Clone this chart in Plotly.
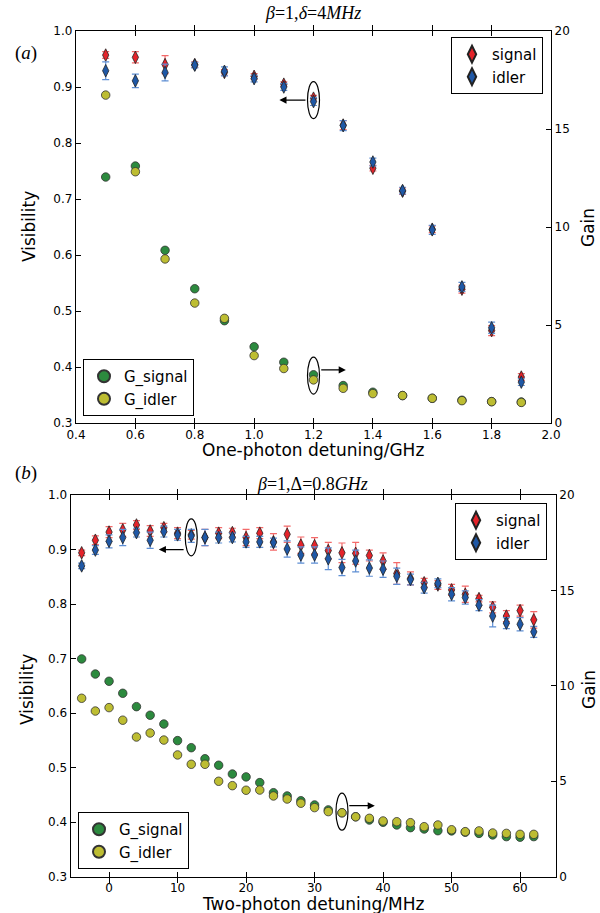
import plotly.graph_objects as go

# ---------------- data: panel (a) ----------------
one_photon_ghz = [0.5, 0.6, 0.7, 0.8, 0.9, 1.0, 1.1, 1.2, 1.3, 1.4, 1.5, 1.6, 1.7, 1.8, 1.9]
vis_signal_a = [0.957, 0.953, 0.940, 0.940, 0.926, 0.919, 0.905, 0.880, 0.832, 0.755, 0.714, 0.646, 0.539, 0.465, 0.382]
vis_signal_a_err = [0.006, 0.010, 0.016, 0.005, 0.005, 0.005, 0.004, 0.005, 0.008, 0.005, 0.006, 0.006, 0.007, 0.009, 0.006]
vis_idler_a = [0.929, 0.911, 0.926, 0.939, 0.928, 0.915, 0.900, 0.874, 0.831, 0.766, 0.715, 0.645, 0.543, 0.470, 0.373]
vis_idler_a_err = [0.016, 0.012, 0.015, 0.005, 0.008, 0.006, 0.006, 0.007, 0.009, 0.007, 0.006, 0.008, 0.008, 0.010, 0.006]
gain_signal_a = [12.55, 13.11, 8.81, 6.85, 5.22, 3.89, 3.10, 2.46, 1.91, 1.57, 1.40, 1.26, 1.16, 1.09, 1.07]
gain_idler_a = [16.73, 12.82, 8.37, 6.12, 5.34, 3.44, 2.78, 2.20, 1.77, 1.50, 1.40, 1.26, 1.14, 1.09, 1.05]

# ---------------- data: panel (b) ----------------
two_photon_mhz = [-4, -2, 0, 2, 4, 6, 8, 10, 12, 14, 16, 18, 20, 22, 24, 26, 28,
                  30, 32, 34, 36, 38, 40, 42, 44, 46, 48, 50, 52, 54, 56, 58, 60, 62]
vis_signal_b = [0.894, 0.917, 0.932, 0.936, 0.945, 0.934, 0.940, 0.930, 0.927, 0.922, 0.930, 0.931,
                0.922, 0.930, 0.914, 0.928, 0.908, 0.907, 0.898, 0.894, 0.893, 0.889, 0.879, 0.856,
                0.847, 0.839, 0.835, 0.826, 0.818, 0.810, 0.794, 0.778, 0.788, 0.771]
vis_signal_b_err = [0.005, 0.008, 0.010, 0.012, 0.008, 0.010, 0.008, 0.010, 0.008, 0.015, 0.010, 0.008,
                    0.015, 0.010, 0.015, 0.015, 0.015, 0.015, 0.015, 0.018, 0.020, 0.010, 0.015, 0.020,
                    0.012, 0.008, 0.008, 0.010, 0.015, 0.006, 0.010, 0.010, 0.010, 0.015]
vis_idler_b = [0.870, 0.899, 0.915, 0.922, 0.931, 0.917, 0.933, 0.927, 0.925, 0.922, 0.922, 0.922,
               0.914, 0.914, 0.913, 0.901, 0.890, 0.890, 0.883, 0.867, 0.879, 0.866, 0.864, 0.851,
               0.845, 0.830, 0.838, 0.818, 0.812, 0.798, 0.778, 0.765, 0.763, 0.749]
vis_idler_b_err = [0.005, 0.008, 0.012, 0.015, 0.008, 0.015, 0.010, 0.010, 0.012, 0.015, 0.010, 0.008,
                   0.010, 0.010, 0.008, 0.015, 0.015, 0.015, 0.020, 0.015, 0.020, 0.015, 0.015, 0.015,
                   0.010, 0.010, 0.008, 0.012, 0.012, 0.010, 0.020, 0.010, 0.012, 0.010]
gain_signal_b = [11.41, 10.62, 10.24, 9.61, 8.91, 8.46, 8.00, 7.13, 6.76, 6.18, 5.84, 5.38, 5.23, 4.93,
                 4.40, 4.23, 3.98, 3.76, 3.50, 3.35, 3.14, 2.97, 2.85, 2.71, 2.57, 2.50, 2.41, 2.40,
                 2.33, 2.27, 2.19, 2.10, 2.07, 2.10]
gain_idler_b = [9.35, 8.68, 8.86, 8.20, 7.32, 7.53, 7.16, 6.38, 5.89, 5.89, 5.00, 4.77, 4.53, 4.54,
                4.23, 4.07, 3.85, 3.62, 3.41, 3.35, 3.14, 3.06, 2.92, 2.88, 2.83, 2.62, 2.71, 2.46,
                2.36, 2.40, 2.29, 2.27, 2.22, 2.22]

# ---------------- styles ----------------
RED = "#e4232a"
RED_ERR = "#f36a6a"
BLUE = "#1f58a6"
BLUE_ERR = "#5f8fd4"
GREEN = "#2c8a3e"
YELLOW = "#bdbd32"
FONT = "DejaVu Sans"

fig = go.Figure()


def vis_trace(x, y, err, name, color, ecolor, xa, ya, legend):
    return go.Scatter(
        x=x, y=y, mode="markers", name=name, xaxis=xa, yaxis=ya, legend=legend,
        marker=dict(symbol="diamond-tall", size=9, color=color, line=dict(color="#222222", width=0.8)),
        error_y=dict(type="data", array=err, color=ecolor, thickness=1.2, width=3.5),
    )


def gain_trace(x, y, name, color, xa, ya, legend):
    return go.Scatter(
        x=x, y=y, mode="markers", name=name, xaxis=xa, yaxis=ya, legend=legend,
        marker=dict(symbol="circle", size=8.5, color=color, line=dict(color="#333333", width=0.8)),
    )


# panel (a)
fig.add_trace(gain_trace(one_photon_ghz, gain_signal_a, "G_signal", GREEN, "x", "y2", "legend2"))
fig.add_trace(gain_trace(one_photon_ghz, gain_idler_a, "G_idler", YELLOW, "x", "y2", "legend2"))
fig.add_trace(vis_trace(one_photon_ghz, vis_signal_a, vis_signal_a_err, "signal", RED, RED_ERR, "x", "y", "legend"))
fig.add_trace(vis_trace(one_photon_ghz, vis_idler_a, vis_idler_a_err, "idler", BLUE, BLUE_ERR, "x", "y", "legend"))

# panel (b)
fig.add_trace(gain_trace(two_photon_mhz, gain_signal_b, "G_signal", GREEN, "x2", "y4", "legend4"))
fig.add_trace(gain_trace(two_photon_mhz, gain_idler_b, "G_idler", YELLOW, "x2", "y4", "legend4"))
fig.add_trace(vis_trace(two_photon_mhz, vis_signal_b, vis_signal_b_err, "signal", RED, RED_ERR, "x2", "y3", "legend3"))
fig.add_trace(vis_trace(two_photon_mhz, vis_idler_b, vis_idler_b_err, "idler", BLUE, BLUE_ERR, "x2", "y3", "legend3"))

W, H = 600, 913


def px_x(p):
    return p / W


def px_y(p):
    return 1 - p / H


axis_common = dict(showline=True, linecolor="black", linewidth=1.3, ticks="inside", ticklen=5,
                   tickcolor="black", tickwidth=1, showgrid=False, zeroline=False, automargin=False,
                   tickfont=dict(family=FONT, size=12, color="black"))

top_dom_x = [px_x(76), px_x(551)]
top_dom_y = [px_y(423), px_y(31)]
bot_dom_x = [px_x(70.7), px_x(555.7)]
bot_dom_y = [px_y(876.7), px_y(495)]

fig.update_layout(
    template="none",
    width=W, height=H,
    margin=dict(l=0, r=0, t=0, b=0, pad=0),
    paper_bgcolor="white", plot_bgcolor="white",
    font=dict(family=FONT, color="black"),
    xaxis=dict(domain=top_dom_x, anchor="y", range=[0.4, 2.0], dtick=0.2, tick0=0.4,
               tickformat=".1f", mirror="allticks", **axis_common),
    yaxis=dict(domain=top_dom_y, anchor="x", range=[0.3, 1.0], dtick=0.1, tick0=0.3,
               tickformat=".1f", **axis_common),
    yaxis2=dict(overlaying="y", side="right", anchor="x", range=[0, 20], dtick=5, **axis_common),
    xaxis2=dict(domain=bot_dom_x, anchor="y3", range=[-5.6, 65.2], dtick=10, tick0=0,
                mirror="allticks", **axis_common),
    yaxis3=dict(domain=bot_dom_y, anchor="x2", range=[0.3, 1.0], dtick=0.1, tick0=0.3,
                tickformat=".1f", **axis_common),
    yaxis4=dict(overlaying="y3", side="right", anchor="x2", range=[0, 20], dtick=5, **axis_common),
)

legend_common = dict(bgcolor="white", bordercolor="black", borderwidth=1,
                     font=dict(family=FONT, size=15, color="black"), tracegroupgap=0,
                     itemsizing="constant")
fig.update_layout(
    legend=dict(x=px_x(543), y=px_y(37), xanchor="right", yanchor="top", **legend_common),
    legend2=dict(x=px_x(83), y=px_y(416), xanchor="left", yanchor="bottom", **legend_common),
    legend3=dict(x=px_x(547), y=px_y(503), xanchor="right", yanchor="top", **legend_common),
    legend4=dict(x=px_x(78), y=px_y(869), xanchor="left", yanchor="bottom", **legend_common),
)

# ellipses marking the points and arrows pointing to the relevant axis
ellipses = [
    ("x", "y", 1.2, 0.8766),
    ("x", "y2", 1.2, 2.42),
    ("x2", "y3", 12, 0.9224),
    ("x2", "y4", 34, 3.41),
]
for xr, yr, cx, cy in ellipses:
    fig.add_shape(type="circle", xref=xr, yref=yr, xsizemode="pixel", ysizemode="pixel",
                  xanchor=cx, yanchor=cy, x0=-6, x1=6, y0=-18.5, y1=18.5,
                  line=dict(color="black", width=1.2))

arrows = [
    ("x", "y", 1.178, 0.8766, 1.085, 0.8766),
    ("x", "y2", 1.221, 2.71, 1.309, 2.71),
    ("x2", "y3", 11.1, 0.900, 7.26, 0.900),
    ("x2", "y4", 34.85, 3.72, 38.8, 3.72),
]
for xr, yr, x0, y0, x1, y1 in arrows:
    fig.add_annotation(x=x1, y=y1, xref=xr, yref=yr, ax=x0, ay=y0, axref=xr, ayref=yr,
                       text="", showarrow=True, arrowhead=2, arrowsize=1.1, arrowwidth=1.3,
                       arrowcolor="black")

SERIF = "Liberation Serif"
texts = [
    ("<i>β</i>=1,<i>δ</i>=4<i>MHz</i>", 313, 13, 0, 18, SERIF),
    ("<i>β</i>=1,Δ=0.8<i>GHz</i>", 313, 484, 0, 18, SERIF),
    ("(<i>a</i>)", 26, 53, 0, 19, SERIF),
    ("(<i>b</i>)", 26, 473, 0, 19, SERIF),
    ("One-photon detuning/GHz", 313, 450, 0, 17, FONT),
    ("Two-photon detuning/MHz", 313, 904, 0, 17, FONT),
    ("Visibility", 29, 227, -90, 17, FONT),
    ("Visibility", 27, 690, -90, 17, FONT),
    ("Gain", 588, 228, -90, 17, FONT),
    ("Gain", 589, 690, -90, 17, FONT),
]
for t, x, y, ang, sz, fam in texts:
    fig.add_annotation(text=t, x=px_x(x), y=px_y(y), xref="paper", yref="paper",
                       xanchor="center", yanchor="middle", showarrow=False, textangle=ang,
                       font=dict(family=fam, size=sz, color="black"))

fig.write_html(
    "out.html",
    config={"displayModeBar": False},
    post_script="document.body.style.margin='0';document.body.style.overflow='hidden';",
)
